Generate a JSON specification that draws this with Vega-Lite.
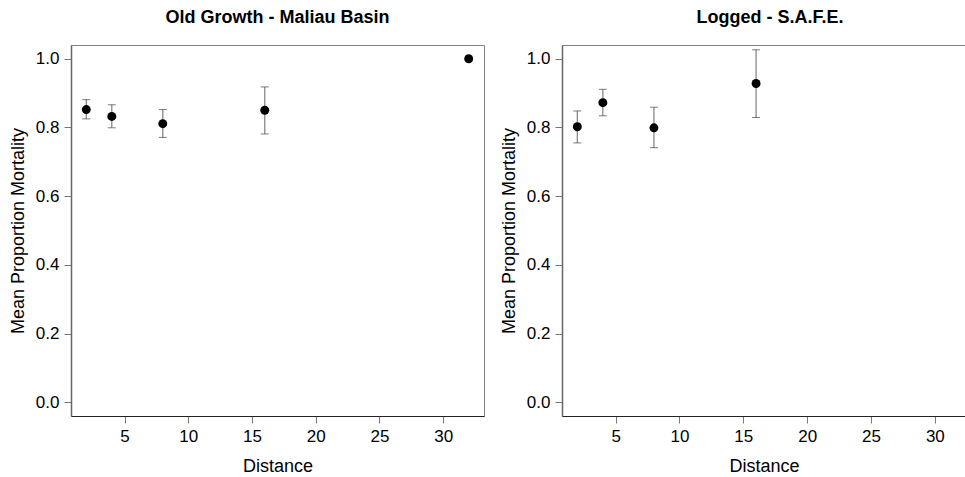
{
  "$schema": "https://vega.github.io/schema/vega-lite/v6.json",
  "padding": {"left": 8, "top": 8, "right": 0, "bottom": 0},
  "config": {
    "font": "Liberation Sans",
    "view": {"stroke": "#808080", "strokeWidth": 1},
    "axis": {"grid": false, "labelFontSize": 17, "titleFontSize": 18, "titleFontWeight": "normal", "labelColor": "#000", "titleColor": "#000", "tickColor": "#777", "tickSize": 7, "domainColor": "#666", "labelPadding": 5},
    "title": {"fontSize": 18, "fontWeight": "bold", "frame": "group", "offset": 18, "color": "#000"},
    "concat": {"spacing": 14}
  },
  "datasets": {
    "d": [
      {"site": "old", "distance": 2, "mean": 0.852, "lo": 0.825, "hi": 0.881},
      {"site": "old", "distance": 4, "mean": 0.832, "lo": 0.799, "hi": 0.866},
      {"site": "old", "distance": 8, "mean": 0.811, "lo": 0.771, "hi": 0.852},
      {"site": "old", "distance": 16, "mean": 0.850, "lo": 0.781, "hi": 0.918},
      {"site": "old", "distance": 32, "mean": 1.0, "lo": null, "hi": null},
      {"site": "logged", "distance": 2, "mean": 0.802, "lo": 0.755, "hi": 0.848},
      {"site": "logged", "distance": 4, "mean": 0.872, "lo": 0.834, "hi": 0.911},
      {"site": "logged", "distance": 8, "mean": 0.799, "lo": 0.741, "hi": 0.859},
      {"site": "logged", "distance": 16, "mean": 0.928, "lo": 0.829, "hi": 1.026}
    ]
  },
  "hconcat": [
    {
      "title": {"text": "Old Growth - Maliau Basin"},
      "width": 413,
      "height": 371,
      "data": {"name": "d"},
      "transform": [{"filter": "datum.site === 'old'"}],
      "encoding": {
        "x": {"field": "distance", "type": "quantitative", "scale": {"domain": [0.8, 33.2], "nice": false, "zero": false}, "axis": {"values": [5, 10, 15, 20, 25, 30], "title": "Distance", "titlePadding": 13, "domainColor": "#222"}}
      },
      "layer": [
        {"mark": {"type": "rule", "color": "#888", "strokeWidth": 1.3},
         "encoding": {"y": {"field": "lo", "type": "quantitative", "scale": {"domain": [-0.04, 1.04], "nice": false, "zero": false}, "axis": {"values": [0, 0.2, 0.4, 0.6, 0.8, 1.0], "format": ".1f", "title": "Mean Proportion Mortality", "titlePadding": 8, "domainWidth": 1.5}}, "y2": {"field": "hi"}}},
        {"mark": {"type": "tick", "orient": "horizontal", "size": 8, "thickness": 1, "color": "#444"},
         "encoding": {"y": {"field": "lo", "type": "quantitative", "scale": {"domain": [-0.04, 1.04], "nice": false, "zero": false}, "axis": {"values": [0, 0.2, 0.4, 0.6, 0.8, 1.0], "format": ".1f", "title": "Mean Proportion Mortality", "titlePadding": 8, "domainWidth": 1.5}}}},
        {"mark": {"type": "tick", "orient": "horizontal", "size": 8, "thickness": 1, "color": "#444"},
         "encoding": {"y": {"field": "hi", "type": "quantitative", "scale": {"domain": [-0.04, 1.04], "nice": false, "zero": false}, "axis": {"values": [0, 0.2, 0.4, 0.6, 0.8, 1.0], "format": ".1f", "title": "Mean Proportion Mortality", "titlePadding": 8, "domainWidth": 1.5}}}},
        {"mark": {"type": "point", "filled": true, "color": "#000", "size": 80, "opacity": 1},
         "encoding": {"y": {"field": "mean", "type": "quantitative", "scale": {"domain": [-0.04, 1.04], "nice": false, "zero": false}, "axis": {"values": [0, 0.2, 0.4, 0.6, 0.8, 1.0], "format": ".1f", "title": "Mean Proportion Mortality", "titlePadding": 8, "domainWidth": 1.5}}}}
      ]
    },
    {
      "title": {"text": "Logged - S.A.F.E.", "dx": 6},
      "width": 404,
      "height": 371,
      "data": {"name": "d"},
      "transform": [{"filter": "datum.site === 'logged'"}],
      "encoding": {
        "x": {"field": "distance", "type": "quantitative", "scale": {"domain": [0.8, 32.44], "nice": false, "zero": false}, "axis": {"values": [5, 10, 15, 20, 25, 30], "title": "Distance", "titlePadding": 13, "domainColor": "#222", "titleDx": 5}}
      },
      "layer": [
        {"mark": {"type": "rule", "color": "#888", "strokeWidth": 1.3},
         "encoding": {"y": {"field": "lo", "type": "quantitative", "scale": {"domain": [-0.04, 1.04], "nice": false, "zero": false}, "axis": {"values": [0, 0.2, 0.4, 0.6, 0.8, 1.0], "format": ".1f", "title": "Mean Proportion Mortality", "titlePadding": 8, "domainWidth": 1.5}}, "y2": {"field": "hi"}}},
        {"mark": {"type": "tick", "orient": "horizontal", "size": 8, "thickness": 1, "color": "#444"},
         "encoding": {"y": {"field": "lo", "type": "quantitative", "scale": {"domain": [-0.04, 1.04], "nice": false, "zero": false}, "axis": {"values": [0, 0.2, 0.4, 0.6, 0.8, 1.0], "format": ".1f", "title": "Mean Proportion Mortality", "titlePadding": 8, "domainWidth": 1.5}}}},
        {"mark": {"type": "tick", "orient": "horizontal", "size": 8, "thickness": 1, "color": "#444"},
         "encoding": {"y": {"field": "hi", "type": "quantitative", "scale": {"domain": [-0.04, 1.04], "nice": false, "zero": false}, "axis": {"values": [0, 0.2, 0.4, 0.6, 0.8, 1.0], "format": ".1f", "title": "Mean Proportion Mortality", "titlePadding": 8, "domainWidth": 1.5}}}},
        {"mark": {"type": "point", "filled": true, "color": "#000", "size": 80, "opacity": 1},
         "encoding": {"y": {"field": "mean", "type": "quantitative", "scale": {"domain": [-0.04, 1.04], "nice": false, "zero": false}, "axis": {"values": [0, 0.2, 0.4, 0.6, 0.8, 1.0], "format": ".1f", "title": "Mean Proportion Mortality", "titlePadding": 8, "domainWidth": 1.5}}}}
      ]
    }
  ]
}
